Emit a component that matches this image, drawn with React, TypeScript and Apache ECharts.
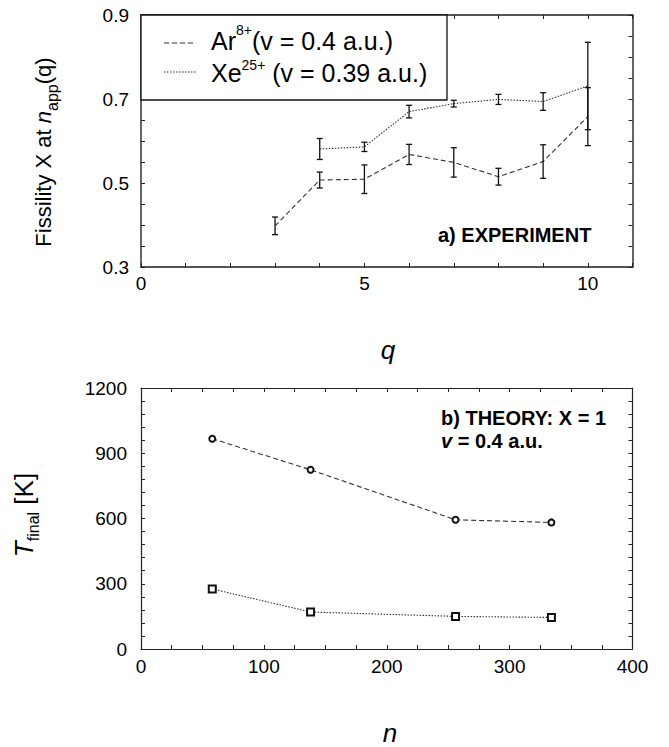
import React, { useEffect, useRef } from "react";
import * as echarts from "echarts";

// ---- Data ----
const arQ = [3, 4, 5, 6, 7, 8, 9, 10];
const arX = [0.398, 0.507, 0.509, 0.568, 0.549, 0.515, 0.551, 0.658];
const arErr = [0.021, 0.019, 0.034, 0.024, 0.035, 0.02, 0.04, 0.069];

const xeQ = [4, 5, 6, 7, 8, 9, 10];
const xeX = [0.581, 0.586, 0.67, 0.689, 0.699, 0.694, 0.731];
const xeErr = [0.025, 0.011, 0.015, 0.008, 0.012, 0.021, 0.104];

const theoryN = [58, 138, 256, 334];
const theoryAr = [967, 824, 594, 582];
const theoryXe = [276, 170, 150, 145];

const topXTickLabels = [0, 5, 10];
const topYTickLabels = [0.3, 0.5, 0.7, 0.9];
const botXTickLabels = [0, 100, 200, 300, 400];
const botYTickLabels = [0, 300, 600, 900, 1200];

const FONT = "'Liberation Sans', Arial, Helvetica, sans-serif";
const LINE = "#333";

function hasLabel(list: number[], v: number) {
  return list.some((t) => Math.abs(t - v) < 1e-6);
}

function errorBarSeries(qs: number[], ys: number[], es: number[], xi: number, yi: number, color: string) {
  return {
    type: "custom",
    xAxisIndex: xi,
    yAxisIndex: yi,
    silent: true,
    z: 5,
    data: qs.map((q, i) => [q, ys[i] - es[i], ys[i] + es[i]]),
    encode: { x: 0, y: [1, 2] },
    renderItem: (params: any, api: any) => {
      const x = api.value(0);
      const p1 = api.coord([x, api.value(1)]);
      const p2 = api.coord([x, api.value(2)]);
      const w = 3;
      const st = { stroke: color, lineWidth: 1.3 };
      return {
        type: "group",
        children: [
          { type: "line", shape: { x1: p1[0], y1: p1[1], x2: p2[0], y2: p2[1] }, style: st },
          { type: "line", shape: { x1: p1[0] - w, y1: p1[1], x2: p1[0] + w, y2: p1[1] }, style: st },
          { type: "line", shape: { x1: p2[0] - w, y1: p2[1], x2: p2[0] + w, y2: p2[1] }, style: st },
        ],
      };
    },
  };
}

function frameAxes(
  kind: "x" | "y",
  gridIndex: number,
  min: number,
  max: number,
  interval: number,
  labels: number[],
  fmt: (v: number) => string,
  frameColor: string,
  frameWidth: number,
  margin: number
) {
  const common = {
    type: "value",
    gridIndex,
    min,
    max,
    interval,
    splitLine: { show: false },
    axisLine: { show: true, onZero: false, lineStyle: { color: frameColor, width: frameWidth } },
    axisTick: { show: true, inside: true, length: 4, lineStyle: { color: "#222", width: 1 } },
  };
  const main = {
    ...common,
    position: kind === "x" ? "bottom" : "left",
    axisLabel: {
      show: true,
      margin,
      color: "#000",
      fontSize: 19,
      fontFamily: FONT,
      showMinLabel: true,
      showMaxLabel: true,
      formatter: (v: number) => (hasLabel(labels, v) ? fmt(v) : ""),
    },
  };
  const opp = {
    ...common,
    position: kind === "x" ? "top" : "right",
    axisLabel: { show: false },
  };
  return [main, opp];
}

function txt(text: string, x: number, y: number, size: number, lh: number, extra: any = {}) {
  return {
    type: "text",
    x,
    y,
    z: 11,
    style: {
      text,
      fontSize: size,
      lineHeight: lh,
      fontFamily: FONT,
      fill: "#000",
      align: "left",
      verticalAlign: "middle",
      ...extra,
    },
  };
}

export default function App() {
  const ref = useRef<HTMLDivElement>(null);

  useEffect(() => {
    if (!ref.current) return;
    const chart = echarts.init(ref.current, null, { renderer: "svg" });

    const xAxes = [
      ...frameAxes("x", 0, 0, 11, 1, topXTickLabels, (v) => String(v), "#555", 1.8, 7),
      ...frameAxes("x", 1, 0, 400, 25, botXTickLabels, (v) => String(v), "#222", 1.2, 8),
    ];
    const yAxes = [
      ...frameAxes("y", 0, 0.3, 0.9, 0.05, topYTickLabels, (v) => v.toFixed(1), "#555", 1.8, 12),
      ...frameAxes("y", 1, 0, 1200, 60, botYTickLabels, (v) => String(v), "#222", 1.2, 14),
    ];

    const subRich = (size: number) => ({
      m: { fontSize: size, fontFamily: FONT, lineHeight: 34, fill: "#000" },
      it: { fontSize: size, fontFamily: FONT, fontStyle: "italic", lineHeight: 34, fill: "#000" },
      sub: { fontSize: 16, fontFamily: FONT, lineHeight: 16, verticalAlign: "bottom", fill: "#000" },
    });

    // legend rows: line height 32 -> row centres at 41 and 73
    const legendRich = {
      m: { fontSize: 25, fontFamily: FONT, lineHeight: 32, fill: "#000" },
      sup1: { fontSize: 14, fontFamily: FONT, height: 10, lineHeight: 10, verticalAlign: "top", fill: "#000" },
      sup2: { fontSize: 14, fontFamily: FONT, height: 15, lineHeight: 15, verticalAlign: "top", fill: "#000" },
    };

    const option: any = {
      animation: false,
      backgroundColor: "#fff",
      grid: [
        { left: 141, top: 15, width: 491.5, height: 252, show: false },
        { left: 141, top: 388, width: 491.5, height: 261, show: false },
      ],
      xAxis: xAxes,
      yAxis: yAxes,
      series: [
        {
          name: "Ar",
          type: "line",
          xAxisIndex: 0,
          yAxisIndex: 0,
          data: arQ.map((q, i) => [q, arX[i]]),
          symbol: "none",
          lineStyle: { color: LINE, width: 1.1, type: [5, 3] },
          z: 3,
        },
        {
          name: "Xe",
          type: "line",
          xAxisIndex: 0,
          yAxisIndex: 0,
          data: xeQ.map((q, i) => [q, xeX[i]]),
          symbol: "none",
          lineStyle: { color: LINE, width: 1.1, type: [1.5, 1.5] },
          z: 3,
        },
        errorBarSeries(arQ, arX, arErr, 0, 0, "#111"),
        errorBarSeries(xeQ, xeX, xeErr, 0, 0, "#111"),
        {
          name: "Ar theory",
          type: "line",
          xAxisIndex: 2,
          yAxisIndex: 2,
          data: theoryN.map((n, i) => [n, theoryAr[i]]),
          symbol: "emptyCircle",
          symbolSize: 6,
          itemStyle: { color: "#111", borderWidth: 1 },
          lineStyle: { color: LINE, width: 1.1, type: [5, 3] },
        },
        {
          name: "Xe theory",
          type: "line",
          xAxisIndex: 2,
          yAxisIndex: 2,
          data: theoryN.map((n, i) => [n, theoryXe[i]]),
          symbol: "emptyRect",
          symbolSize: 7,
          itemStyle: { color: "#111", borderWidth: 1.2 },
          lineStyle: { color: LINE, width: 1.1, type: [1.5, 1.5] },
        },
      ],
      graphic: [
        // legend box
        {
          type: "rect",
          shape: { x: 141, y: 15, width: 306, height: 85 },
          style: { fill: "#fff", stroke: "#111", lineWidth: 1.3 },
          z: 10,
        },
        {
          type: "line",
          shape: { x1: 164, y1: 43, x2: 196, y2: 43 },
          style: { stroke: LINE, lineWidth: 1.1, lineDash: [5, 3] },
          z: 11,
        },
        {
          type: "line",
          shape: { x1: 164, y1: 72, x2: 196, y2: 72 },
          style: { stroke: LINE, lineWidth: 1.1, lineDash: [1.5, 1.5] },
          z: 11,
        },
        {
          type: "text",
          x: 211,
          y: 57,
          z: 11,
          style: {
            text: "{m|Ar}{sup1|8+}{m|(v = 0.4 a.u.)}\n{m|Xe}{sup2|25+}{m| (v = 0.39 a.u.)}",
            rich: legendRich,
            align: "left",
            verticalAlign: "middle",
          },
        },
        // annotations
        txt("a) EXPERIMENT", 438, 235, 20, 22, { fontWeight: "bold" }),
        txt("b) THEORY: X = 1", 441, 418, 20, 22, { fontWeight: "bold" }),
        {
          type: "text",
          x: 441,
          y: 441,
          style: {
            text: "{i|v}{b| = 0.4 a.u.}",
            rich: {
              i: { fontSize: 20, lineHeight: 22, fontWeight: "bold", fontStyle: "italic", fontFamily: FONT, fill: "#000" },
              b: { fontSize: 20, lineHeight: 22, fontWeight: "bold", fontFamily: FONT, fill: "#000" },
            },
            align: "left",
            verticalAlign: "middle",
          },
        },
        // axis names
        {
          type: "text",
          x: 388,
          y: 350,
          style: {
            text: "q",
            fontSize: 26,
            fontStyle: "italic",
            fontFamily: FONT,
            fill: "#000",
            align: "center",
            verticalAlign: "middle",
          },
        },
        {
          type: "text",
          x: 390,
          y: 733,
          style: {
            text: "n",
            fontSize: 26,
            fontStyle: "italic",
            fontFamily: FONT,
            fill: "#000",
            align: "center",
            verticalAlign: "middle",
          },
        },
        {
          type: "text",
          x: 43,
          y: 152,
          rotation: Math.PI / 2,
          style: {
            text: "{m|Fissility X at }{it|n}{sub|app}{m|(q)}",
            rich: subRich(22),
            align: "center",
            verticalAlign: "middle",
          },
        },
        {
          type: "text",
          x: 24,
          y: 515,
          rotation: Math.PI / 2,
          style: {
            text: "{it|T}{sub|final}{m| [K]}",
            rich: subRich(26),
            align: "center",
            verticalAlign: "middle",
          },
        },
      ],
    };

    chart.setOption(option);
    return () => chart.dispose();
  }, []);

  return (
    <div
      ref={ref}
      style={{ position: "absolute", left: 0, top: 0, width: 669, height: 747, background: "#fff" }}
    />
  );
}
